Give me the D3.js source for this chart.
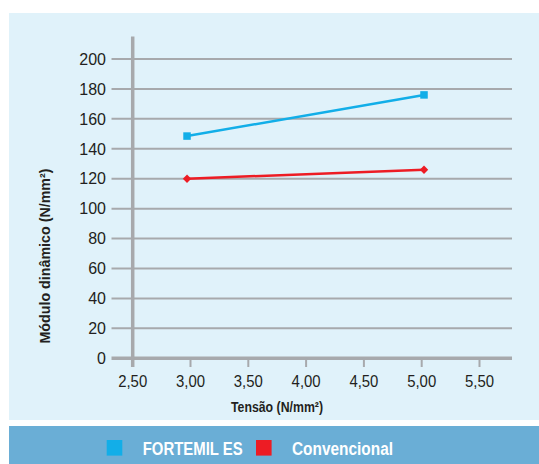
<!DOCTYPE html>
<html>
<head>
    <script src="https://d3js.org/d3.v7.min.js"></script>
    <style>
        body { margin: 0; background: #fff; }
        svg { display: block; }
        text { font-family: "Liberation Sans", Arial, sans-serif; }
        .tick-label { font-size: 16px; fill: #231f20; }
        .axis-title { font-size: 14px; font-weight: bold; fill: #231f20; }
        .legend-text { font-size: 18px; font-weight: bold; fill: #fff; }
    </style>
</head>
<body>
    <div id="chart"></div>

    <script>
        // Data
        const seriesNames = ["FORTEMIL ES", "Convencional"];
        const seriesColors = ["#12aee8", "#ed1c24"];
        const tensao = [2.97, 5.02];
        const fortemil = [148.5, 176];
        const convencional = [120, 126];
        const xTicks = [2.5, 3.0, 3.5, 4.0, 4.5, 5.0, 5.5];
        const yTicks = [0, 20, 40, 60, 80, 100, 120, 140, 160, 180, 200];

        const W = 539, H = 464;
        const grid = "#a7a9ac";

        const svg = d3.select("#chart").append("svg")
            .attr("width", W)
            .attr("height", H);

        // Panels
        svg.append("rect").attr("x", 9).attr("y", 13).attr("width", W - 9).attr("height", 407)
            .attr("fill", "#e0f2fa");
        svg.append("rect").attr("x", 9).attr("y", 426).attr("width", W - 9).attr("height", 38)
            .attr("fill", "#6aaed6");

        // Scales
        const x = d3.scaleLinear().domain([2.5, 5.5]).range([132.7, 479.5]);
        const y = d3.scaleLinear().domain([0, 200]).range([358.3, 59]);
        const gridLeft = 111.5, gridRight = 512;

        // Horizontal grid lines
        svg.append("g").selectAll("line")
            .data(yTicks.filter(d => d > 0))
            .join("line")
            .attr("x1", gridLeft).attr("x2", gridRight)
            .attr("y1", d => y(d)).attr("y2", d => y(d))
            .attr("stroke", grid).attr("stroke-width", 2);

        // Y tick labels
        svg.append("g").selectAll("text")
            .data(yTicks)
            .join("text")
            .attr("class", "tick-label")
            .attr("x", 106)
            .attr("y", d => y(d))
            .attr("dy", "0.36em")
            .attr("text-anchor", "end")
            .text(d => d);

        // X axis line + ticks
        svg.append("line")
            .attr("x1", gridLeft).attr("x2", gridRight)
            .attr("y1", y(0)).attr("y2", y(0))
            .attr("stroke", grid).attr("stroke-width", 3.5);
        svg.append("g").selectAll("line")
            .data(xTicks.slice(1))
            .join("line")
            .attr("x1", d => x(d)).attr("x2", d => x(d))
            .attr("y1", y(0)).attr("y2", 367)
            .attr("stroke", grid).attr("stroke-width", 2);

        // Y axis line
        svg.append("line")
            .attr("x1", x(2.5)).attr("x2", x(2.5))
            .attr("y1", 36.5).attr("y2", 367)
            .attr("stroke", grid).attr("stroke-width", 3.5);

        // X tick labels
        svg.append("g").selectAll("text")
            .data(xTicks)
            .join("text")
            .attr("class", "tick-label")
            .attr("x", d => x(d))
            .attr("y", 386.5)
            .attr("text-anchor", "middle")
            .attr("textLength", 29).attr("lengthAdjust", "spacingAndGlyphs")
            .text(d => d3.format(".2f")(d).replace(".", ","));

        // Axis titles (condensed look via textLength)
        svg.append("text")
            .attr("class", "axis-title")
            .attr("x", 277).attr("y", 411.5)
            .attr("text-anchor", "middle")
            .attr("textLength", 92).attr("lengthAdjust", "spacingAndGlyphs")
            .text("Tensão (N/mm²)");
        svg.append("text")
            .attr("class", "axis-title")
            .attr("transform", "translate(50,256) rotate(-90)")
            .attr("text-anchor", "middle")
            .attr("textLength", 175).attr("lengthAdjust", "spacingAndGlyphs")
            .text("Módulo dinâmico (N/mm²)");

        // Series
        const line = d3.line().x(d => x(d[0])).y(d => y(d[1]));
        const fortemilPts = tensao.map((t, i) => [t, fortemil[i]]);
        const convPts = tensao.map((t, i) => [t, convencional[i]]);

        svg.append("path").datum(fortemilPts).attr("d", line)
            .attr("fill", "none").attr("stroke", seriesColors[0]).attr("stroke-width", 2.5);
        svg.append("path").datum(convPts).attr("d", line)
            .attr("fill", "none").attr("stroke", seriesColors[1]).attr("stroke-width", 2.5);

        svg.append("g").selectAll("rect")
            .data(fortemilPts)
            .join("rect")
            .attr("x", d => x(d[0]) - 3.75).attr("y", d => y(d[1]) - 3.75)
            .attr("width", 7.5).attr("height", 7.5)
            .attr("fill", seriesColors[0]);

        svg.append("g").selectAll("path")
            .data(convPts)
            .join("path")
            .attr("d", d3.symbol(d3.symbolDiamond2, 45))
            .attr("transform", d => `translate(${x(d[0])},${y(d[1])})`)
            .attr("fill", seriesColors[1]);

        // Legend
        const legendX = [106.7, 256];
        const legendLen = [100, 101];
        const legend = svg.append("g").selectAll("g")
            .data(seriesNames)
            .join("g")
            .attr("transform", (d, i) => `translate(${legendX[i]},440)`);
        legend.append("rect")
            .attr("width", 15.6).attr("height", 15.6)
            .attr("fill", (d, i) => seriesColors[i]);
        legend.append("text")
            .attr("class", "legend-text")
            .attr("x", 36)
            .attr("y", 14.8)
            .attr("textLength", (d, i) => legendLen[i]).attr("lengthAdjust", "spacingAndGlyphs")
            .text(d => d);
    </script>
</body>
</html>
